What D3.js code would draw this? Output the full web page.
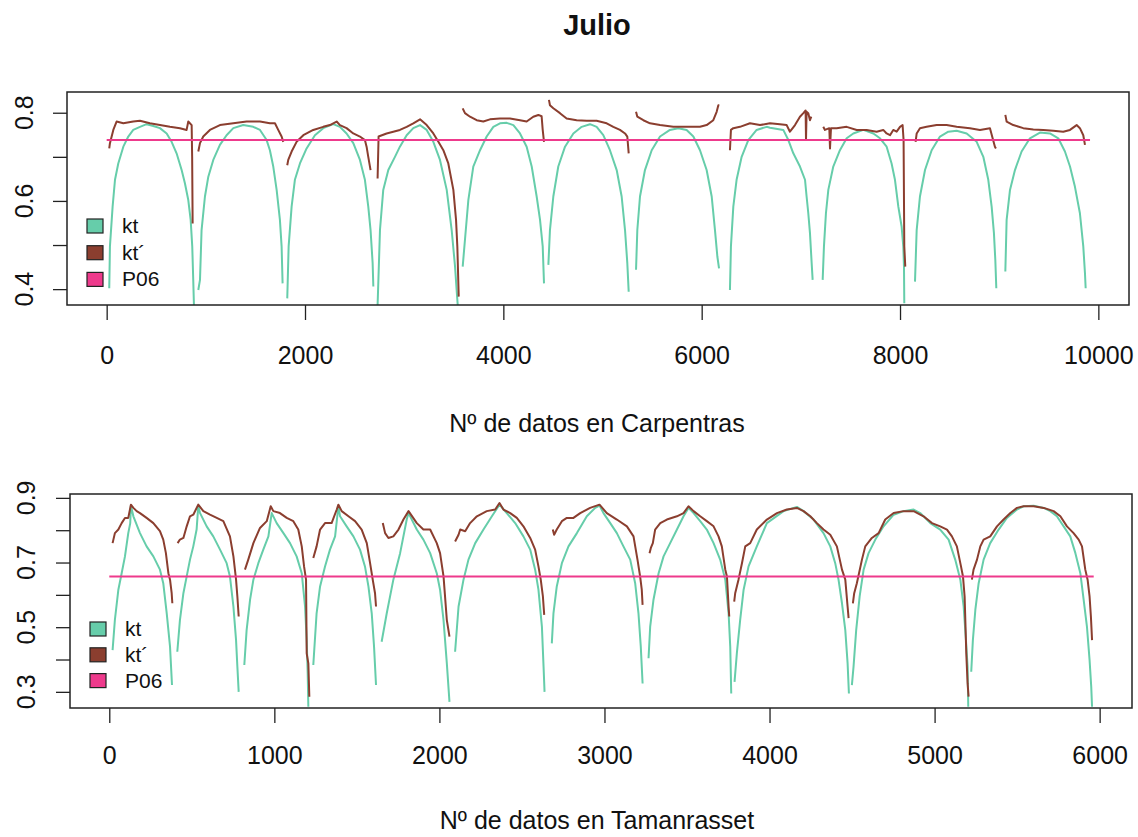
<!DOCTYPE html>
<html>
<head>
<meta charset="utf-8">
<script src="https://cdn.jsdelivr.net/npm/d3@7"></script>
<style>
  body { margin: 0; background: #fff; }
  text { font-family: "Liberation Sans", Arial, sans-serif; fill: #111; }
</style>
</head>
<body>
<script>
// ---- data: one sub-array per day, [index, value] ----
const carpKt = [
  [[26,.402],[33,.497],[60,.587],[84,.648],[117,.685],[168,.723],[218,.746],[268,.761],[336,.768],[403,.774],[470,.770],[537,.765],[605,.753],[655,.734],[705,.708],[756,.670],[789,.640],[823,.602],[847,.557],[863,.497],[873,.421],[880,.364]],
  [[924,.398],[941,.421],[957,.534],[991,.610],[1025,.655],[1075,.693],[1142,.727],[1209,.749],[1277,.765],[1377,.772],[1478,.768],[1546,.761],[1613,.738],[1646,.715],[1680,.678],[1714,.625],[1747,.557],[1764,.497],[1774,.413]],
  [[1821,.379],[1835,.497],[1865,.587],[1898,.648],[1949,.685],[2016,.719],[2100,.749],[2184,.765],[2285,.774],[2352,.768],[2419,.753],[2487,.731],[2554,.693],[2604,.648],[2638,.587],[2661,.534],[2682,.459],[2689,.406]],
  [[2732,.364],[2756,.534],[2789,.625],[2840,.670],[2907,.700],[2957,.723],[3025,.749],[3092,.765],[3160,.772],[3227,.761],[3294,.734],[3361,.693],[3429,.625],[3479,.534],[3513,.451],[3529,.398],[3540,.364]],
  [[3590,.451],[3613,.512],[3647,.602],[3697,.678],[3765,.715],[3832,.746],[3899,.768],[3966,.776],[4034,.777],[4101,.772],[4168,.753],[4235,.723],[4286,.678],[4336,.610],[4370,.557],[4397,.497],[4410,.413]],
  [[4454,.455],[4470,.534],[4504,.610],[4554,.678],[4622,.723],[4706,.753],[4790,.768],[4874,.774],[4941,.768],[5008,.749],[5075,.715],[5143,.670],[5193,.610],[5227,.534],[5250,.459],[5264,.394]],
  [[5338,.444],[5351,.534],[5378,.610],[5428,.670],[5496,.715],[5580,.746],[5680,.761],[5764,.765],[5848,.761],[5916,.746],[5983,.715],[6050,.670],[6101,.610],[6134,.534],[6158,.474],[6175,.447]],
  [[6285,.398],[6295,.497],[6319,.587],[6352,.648],[6403,.700],[6470,.738],[6554,.761],[6655,.768],[6689,.766],[6823,.761],[6874,.738],[6924,.708],[6991,.678],[7042,.648],[7058,.610],[7075,.572],[7092,.527],[7109,.459],[7119,.421]],
  [[7220,.421],[7233,.497],[7253,.572],[7277,.625],[7327,.678],[7394,.715],[7462,.742],[7529,.753],[7630,.761],[7731,.753],[7798,.742],[7865,.723],[7915,.685],[7949,.648],[7983,.587],[8016,.542],[8033,.497],[8040,.451],[8043,.368]],
  [[8151,.417],[8168,.534],[8201,.610],[8252,.670],[8319,.715],[8403,.746],[8487,.757],[8571,.759],[8672,.753],[8773,.734],[8840,.700],[8890,.648],[8924,.587],[8947,.527],[8961,.466],[8971,.402]],
  [[9062,.440],[9075,.557],[9109,.625],[9159,.670],[9226,.712],[9310,.742],[9411,.755],[9512,.753],[9596,.742],[9663,.712],[9714,.678],[9764,.632],[9814,.572],[9848,.497],[9865,.436],[9872,.402]]
]
const carpKtp = [
  [[26,.719],[33,.731],[67,.761],[100,.780],[168,.776],[268,.780],[336,.782],[436,.776],[537,.772],[638,.768],[739,.765],[806,.761],[823,.780],[857,.772],[862,.700],[867,.549]],
  [[924,.712],[941,.731],[974,.746],[1041,.761],[1142,.772],[1277,.776],[1411,.780],[1546,.780],[1646,.776],[1697,.776],[1730,.761],[1764,.746],[1781,.734]],
  [[1821,.681],[1831,.693],[1865,.712],[1915,.734],[1983,.749],[2083,.761],[2184,.768],[2251,.772],[2285,.776],[2319,.780],[2352,.772],[2419,.765],[2487,.753],[2554,.746],[2604,.738],[2621,.723],[2638,.700],[2661,.670]],
  [[2732,.651],[2742,.746],[2823,.753],[2957,.761],[3025,.768],[3092,.776],[3160,.785],[3227,.772],[3294,.753],[3345,.734],[3395,.715],[3445,.685],[3496,.625],[3523,.557],[3536,.497],[3550,.383]],
  [[3590,.810],[3613,.799],[3664,.791],[3731,.783],[3798,.780],[3865,.785],[3966,.787],[4067,.787],[4168,.783],[4235,.780],[4302,.791],[4353,.795],[4386,.792],[4397,.761],[4410,.734]],
  [[4460,.829],[4470,.817],[4504,.810],[4571,.799],[4638,.787],[4739,.783],[4840,.782],[4941,.782],[5042,.776],[5109,.768],[5176,.761],[5227,.753],[5250,.746],[5264,.708]],
  [[5338,.802],[5351,.791],[5412,.783],[5479,.776],[5580,.772],[5714,.768],[5848,.768],[5983,.768],[6050,.772],[6117,.783],[6151,.802],[6168,.817],[6178,.817]],
  [[6285,.715],[6295,.761],[6319,.765],[6386,.768],[6487,.776],[6588,.772],[6689,.776],[6789,.774],[6857,.772],[6890,.757],[6941,.772],[6991,.791],[7025,.799],[7048,.805],[7052,.738],[7058,.802],[7075,.799],[7092,.783],[7105,.791]],
  [[7226,.768],[7243,.761],[7287,.765],[7294,.719],[7304,.765],[7361,.765],[7462,.768],[7563,.761],[7663,.761],[7764,.757],[7831,.761],[7865,.753],[7899,.749],[7932,.761],[7966,.757],[8000,.768],[8026,.772],[8036,.738],[8043,.497],[8053,.451]],
  [[8157,.734],[8168,.753],[8201,.765],[8268,.768],[8369,.772],[8470,.772],[8571,.768],[8705,.765],[8806,.761],[8907,.765],[8934,.742],[8957,.723],[8967,.719]],
  [[9062,.795],[9075,.780],[9142,.772],[9243,.765],[9344,.762],[9445,.761],[9546,.759],[9646,.757],[9714,.761],[9781,.772],[9814,.765],[9848,.749],[9865,.727]]
]
const carpP06 = [[0,.738],[9916,.738]]

const tamKt = [
  [[20,.429],[34,.523],[55,.616],[75,.667],[95,.719],[115,.791],[127,.822],[131,.876],[146,.843],[186,.791],[226,.750],[267,.719],[307,.678],[327,.636],[348,.543],[368,.440],[380,.321]],
  [[412,.424],[428,.522],[449,.605],[469,.657],[489,.709],[509,.750],[529,.802],[539,.874],[550,.853],[590,.812],[630,.781],[671,.740],[711,.698],[731,.657],[752,.564],[768,.460],[776,.378],[784,.300]],
  [[818,.383],[832,.491],[853,.585],[873,.647],[903,.698],[933,.740],[964,.781],[984,.853],[1014,.822],[1055,.791],[1095,.760],[1135,.719],[1166,.667],[1186,.564],[1196,.460],[1202,.357],[1206,.254]],
  [[1236,.383],[1256,.543],[1277,.626],[1307,.688],[1337,.740],[1368,.781],[1388,.874],[1398,.843],[1438,.812],[1479,.781],[1519,.740],[1549,.688],[1570,.626],[1590,.543],[1604,.440],[1616,.321]],
  [[1650,.455],[1681,.543],[1721,.647],[1762,.729],[1802,.833],[1813,.853],[1863,.802],[1903,.771],[1944,.729],[1984,.667],[2004,.616],[2025,.522],[2045,.388],[2061,.269]],
  [[2095,.424],[2116,.564],[2146,.647],[2176,.709],[2217,.760],[2267,.802],[2318,.843],[2364,.879],[2408,.853],[2459,.822],[2509,.781],[2550,.740],[2580,.678],[2600,.616],[2621,.502],[2631,.378],[2637,.300]],
  [[2681,.450],[2691,.543],[2711,.626],[2742,.698],[2782,.750],[2833,.791],[2893,.843],[2944,.869],[2970,.876],[2994,.853],[3035,.822],[3075,.791],[3115,.750],[3156,.709],[3186,.636],[3206,.543],[3220,.440],[3231,.326]],
  [[3267,.404],[3277,.502],[3297,.585],[3328,.667],[3358,.719],[3398,.760],[3439,.802],[3479,.843],[3509,.869],[3540,.853],[3580,.828],[3620,.802],[3661,.760],[3701,.709],[3732,.647],[3752,.543],[3762,.440],[3768,.295]],
  [[3788,.331],[3802,.419],[3822,.522],[3843,.616],[3873,.688],[3923,.750],[3984,.822],[4085,.859],[4166,.872],[4206,.859],[4267,.833],[4327,.791],[4368,.750],[4398,.698],[4418,.647],[4439,.574],[4459,.491],[4473,.388],[4481,.295]],
  [[4499,.321],[4509,.378],[4525,.491],[4546,.595],[4570,.678],[4600,.729],[4641,.771],[4691,.812],[4752,.848],[4812,.859],[4873,.864],[4913,.853],[4974,.822],[5034,.802],[5085,.771],[5125,.709],[5156,.647],[5176,.564],[5190,.460],[5200,.378],[5204,.254]],
  [[5222,.362],[5232,.460],[5247,.554],[5267,.636],[5297,.709],[5337,.760],[5388,.802],[5438,.838],[5499,.864],[5539,.874],[5600,.876],[5661,.869],[5701,.859],[5741,.843],[5782,.812],[5822,.781],[5853,.729],[5883,.667],[5903,.585],[5923,.502],[5939,.398],[5949,.316],[5954,.254]]
]
const tamKtp = [
  [[20,.760],[34,.791],[55,.802],[75,.822],[95,.838],[115,.838],[131,.879],[146,.869],[166,.859],[186,.853],[226,.838],[267,.822],[307,.797],[327,.771],[343,.729],[358,.667],[368,.647],[378,.605],[382,.574]],
  [[414,.760],[428,.771],[449,.776],[469,.812],[489,.843],[509,.848],[539,.879],[570,.859],[610,.848],[651,.838],[691,.828],[731,.781],[752,.719],[768,.647],[776,.595],[784,.533]],
  [[822,.678],[842,.709],[873,.760],[913,.807],[954,.828],[978,.874],[994,.859],[1034,.853],[1075,.838],[1115,.828],[1145,.802],[1166,.750],[1180,.688],[1192,.647],[1196,.419],[1206,.388],[1212,.285]],
  [[1236,.714],[1256,.750],[1277,.802],[1307,.822],[1347,.822],[1378,.864],[1388,.879],[1408,.859],[1449,.843],[1489,.828],[1529,.802],[1560,.760],[1580,.698],[1596,.647],[1610,.605],[1616,.564]],
  [[1657,.822],[1671,.791],[1691,.776],[1721,.781],[1752,.802],[1782,.833],[1813,.859],[1863,.822],[1903,.802],[1944,.802],[1984,.760],[2004,.729],[2025,.657],[2045,.522],[2061,.471]],
  [[2095,.765],[2116,.786],[2126,.802],[2156,.797],[2186,.822],[2227,.843],[2287,.859],[2338,.864],[2364,.884],[2388,.864],[2429,.853],[2469,.838],[2509,.812],[2550,.776],[2580,.740],[2600,.688],[2614,.647],[2627,.595],[2635,.538]],
  [[2687,.802],[2695,.786],[2711,.802],[2742,.828],[2772,.838],[2812,.838],[2853,.853],[2913,.869],[2970,.879],[3014,.853],[3075,.833],[3136,.812],[3176,.781],[3200,.709],[3216,.657],[3226,.616],[3231,.569]],
  [[3273,.729],[3281,.745],[3293,.760],[3307,.802],[3338,.822],[3378,.833],[3439,.843],[3479,.853],[3509,.874],[3540,.859],[3580,.843],[3620,.828],[3661,.812],[3691,.781],[3711,.750],[3732,.678],[3742,.657],[3752,.564],[3756,.533]],
  [[3786,.579],[3792,.605],[3812,.647],[3833,.698],[3853,.750],[3883,.760],[3923,.802],[3984,.833],[4045,.853],[4105,.864],[4166,.869],[4206,.859],[4247,.843],[4287,.822],[4327,.802],[4368,.786],[4408,.750],[4439,.678],[4459,.647],[4473,.564],[4479,.528]],
  [[4505,.574],[4513,.605],[4529,.636],[4560,.709],[4580,.750],[4620,.776],[4661,.791],[4701,.833],[4752,.853],[4812,.859],[4873,.859],[4933,.843],[4984,.822],[5034,.812],[5075,.802],[5105,.781],[5135,.750],[5160,.688],[5172,.657],[5182,.595],[5188,.491],[5192,.419],[5200,.326],[5206,.285]],
  [[5226,.647],[5236,.678],[5257,.709],[5277,.750],[5297,.771],[5337,.781],[5378,.812],[5418,.833],[5459,.853],[5499,.869],[5539,.874],[5600,.874],[5661,.869],[5721,.859],[5762,.843],[5802,.812],[5842,.791],[5873,.771],[5893,.750],[5913,.678],[5927,.647],[5939,.595],[5947,.533],[5954,.460]]
]
const tamP06 = [[0,.657],[5964,.657]]

const carpXTicks = [0, 2000, 4000, 6000, 8000, 10000]
const carpYTicks = [0.4, 0.5, 0.6, 0.7, 0.8]
const carpYLabels = [0.4, 0.6, 0.8]
const tamXTicks = [0, 1000, 2000, 3000, 4000, 5000, 6000]
const tamYTicks = [0.3, 0.4, 0.5, 0.6, 0.7, 0.8, 0.9]
const tamYLabels = [0.3, 0.5, 0.7, 0.9]
const legendNames = ["kt", "kt\u00b4", "P06"]
const colors = ["#66CDAA", "#8B3E2F", "#EE3A8C"]

const svg = d3.select("body").append("svg")
    .attr("width", 1138).attr("height", 837)
    .style("background", "#fff")

svg.append("text")
    .attr("x", 597).attr("y", 35)
    .attr("text-anchor", "middle")
    .style("font-weight", "bold").style("font-size", "29px")
    .text("Julio")

function drawPanel(p, id) {
    let scX = d3.scaleLinear().domain(p.xDom).range([p.left, p.right])
    let scY = d3.scaleLinear().domain(p.yDom).range([p.bottom, p.top])

    svg.append("clipPath").attr("id", id)
        .append("rect")
        .attr("x", p.left).attr("y", p.top)
        .attr("width", p.right - p.left).attr("height", p.bottom - p.top)

    let g = svg.append("g").attr("clip-path", `url(#${id})`)
    let makeLine = d3.line().x(d => scX(d[0])).y(d => scY(d[1]))

    // kt first, then kt´ on top, then the P06 level
    p.kt.forEach(day => {
        g.append("path").attr("d", makeLine(day))
            .attr("fill", "none").attr("stroke", colors[0])
            .attr("stroke-width", 2).attr("stroke-linejoin", "round")
    })
    p.ktp.forEach(day => {
        g.append("path").attr("d", makeLine(day))
            .attr("fill", "none").attr("stroke", colors[1])
            .attr("stroke-width", 2).attr("stroke-linejoin", "round")
    })
    g.append("path").attr("d", makeLine(p.p06))
        .attr("fill", "none").attr("stroke", colors[2]).attr("stroke-width", 2)

    // box
    svg.append("rect")
        .attr("x", p.left).attr("y", p.top)
        .attr("width", p.right - p.left).attr("height", p.bottom - p.top)
        .attr("fill", "none").attr("stroke", "#222").attr("stroke-width", 1.5)

    // x axis
    let xAxis = d3.axisBottom(scX).tickValues(p.xTicks).tickFormat(d3.format("d"))
        .tickSize(15).tickPadding(p.xPad).tickSizeOuter(0)
    let gx = svg.append("g").attr("transform", `translate(0, ${p.bottom})`).call(xAxis)
    gx.select(".domain").remove()
    gx.selectAll("line").attr("stroke", "#222").attr("stroke-width", 1.3)
    gx.selectAll("text").style("font-size", "25px").attr("fill", "#111")

    // y axis, labels turned like R does
    let yAxis = d3.axisLeft(scY).tickValues(p.yTicks).tickFormat("").tickSize(14).tickSizeOuter(0)
    let gy = svg.append("g").attr("transform", `translate(${p.left}, 0)`).call(yAxis)
    gy.select(".domain").remove()
    gy.selectAll("line").attr("stroke", "#222").attr("stroke-width", 1.3)
    svg.append("g").selectAll("text")
        .data(p.yLabels).enter().append("text")
        .attr("transform", d => `translate(${p.yLabX}, ${scY(d)}) rotate(-90)`)
        .attr("text-anchor", "middle")
        .style("font-size", "25px")
        .text(d => d.toFixed(1))

    // x title
    svg.append("text")
        .attr("x", 597).attr("y", p.titleY)
        .attr("text-anchor", "middle").style("font-size", "25px")
        .text(p.xTitle)

    // legend
    let lg = svg.append("g")
    legendNames.forEach((name, i) => {
        let y = p.legY + i * p.legStep
        lg.append("rect").attr("x", p.legX).attr("y", y)
            .attr("width", 16).attr("height", 14)
            .attr("fill", colors[i]).attr("stroke", "#222").attr("stroke-width", 1.2)
        lg.append("text").attr("x", p.legX + 35).attr("y", y + 14)
            .style("font-size", "21px").text(name)
    })
}

drawPanel({
    left: 67, right: 1129, top: 92, bottom: 305,
    xDom: [-400, 10309], yDom: [0.364, 0.847],
    xTicks: carpXTicks, yTicks: carpYTicks, yLabels: carpYLabels,
    kt: carpKt, ktp: carpKtp, p06: carpP06,
    xPad: 26, yLabX: 33, titleY: 432,
    xTitle: "N\u00ba de datos en Carpentras",
    legX: 87, legY: 219, legStep: 26.7
}, "clipTop")

drawPanel({
    left: 70, right: 1132, top: 494, bottom: 708,
    xDom: [-238, 6196], yDom: [0.250, 0.912],
    xTicks: tamXTicks, yTicks: tamYTicks, yLabels: tamYLabels,
    kt: tamKt, ktp: tamKtp, p06: tamP06,
    xPad: 23, yLabX: 35, titleY: 829,
    xTitle: "N\u00ba de datos en Tamanrasset",
    legX: 90, legY: 622, legStep: 25.8
}, "clipBottom")
</script>
</body>
</html>
